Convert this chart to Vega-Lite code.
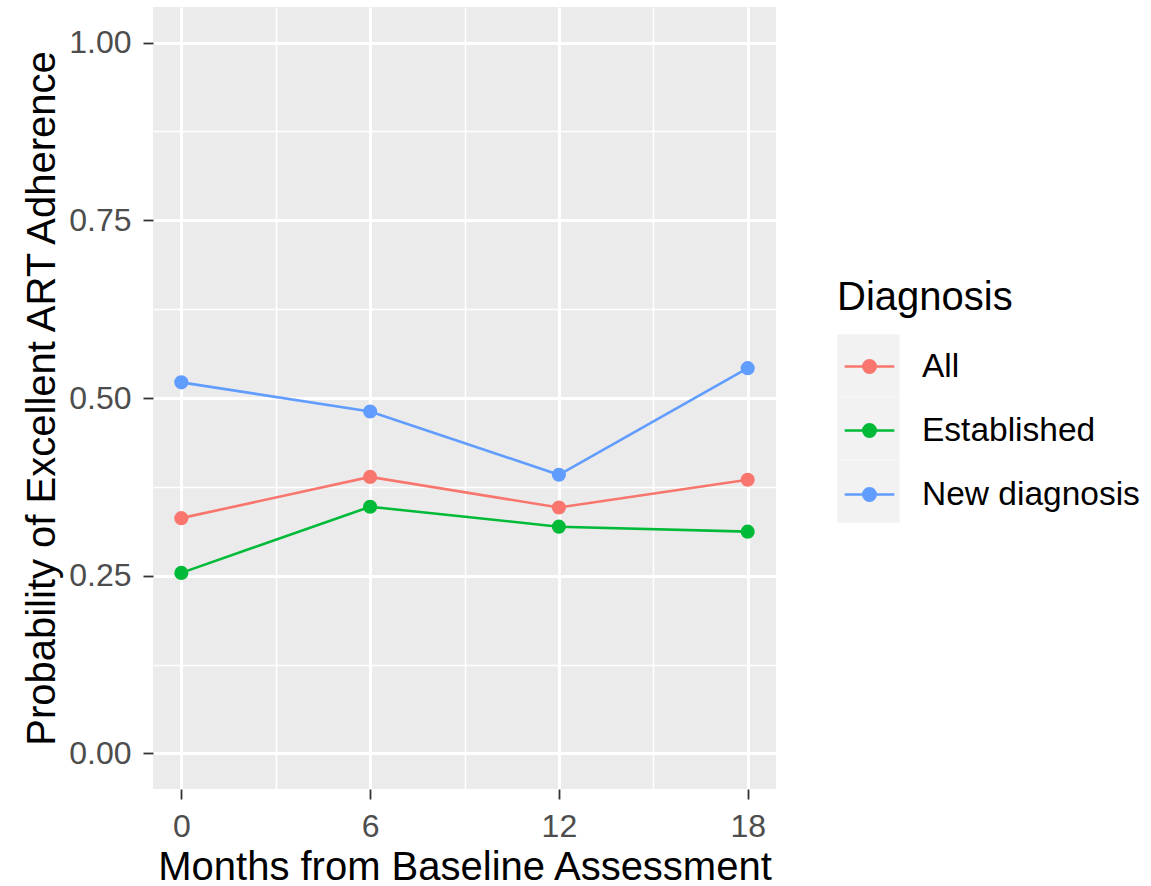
{
  "$schema": "https://vega.github.io/schema/vega-lite/v6.json",
  "width": 623,
  "height": 782,
  "autosize": {"type": "none"},
  "padding": {"left": 153, "top": 7, "right": 375, "bottom": 97},
  "background": "white",
  "config": {
    "font": "Liberation Sans",
    "view": {"fill": "#EBEBEB", "stroke": null}
  },
  "data": {
    "values": [
      {"Months": 0, "Diagnosis": "All", "p": 0.331},
      {"Months": 6, "Diagnosis": "All", "p": 0.389},
      {"Months": 12, "Diagnosis": "All", "p": 0.346},
      {"Months": 18, "Diagnosis": "All", "p": 0.385},
      {"Months": 0, "Diagnosis": "Established", "p": 0.254},
      {"Months": 6, "Diagnosis": "Established", "p": 0.347},
      {"Months": 12, "Diagnosis": "Established", "p": 0.319},
      {"Months": 18, "Diagnosis": "Established", "p": 0.312},
      {"Months": 0, "Diagnosis": "New diagnosis", "p": 0.522},
      {"Months": 6, "Diagnosis": "New diagnosis", "p": 0.481},
      {"Months": 12, "Diagnosis": "New diagnosis", "p": 0.392},
      {"Months": 18, "Diagnosis": "New diagnosis", "p": 0.542}
    ]
  },
  "encoding": {
    "x": {
      "field": "Months",
      "type": "quantitative",
      "scale": {"domain": [-0.9, 18.9], "nice": false, "zero": false},
      "axis": {
        "title": "Months from Baseline Assessment",
        "values": [0, 3, 6, 9, 12, 15, 18],
        "labelExpr": "datum.value % 6 === 0 ? datum.label : ''",
        "domain": false,
        "grid": true,
        "gridColor": "white",
        "gridWidth": {"condition": {"test": "datum.value % 6 === 0", "value": 3}, "value": 1.5},
        "tickColor": "#333333",
        "tickWidth": 1.8,
        "tickSize": 10,
        "tickOpacity": {"condition": {"test": "datum.value % 6 === 0", "value": 1}, "value": 0},
        "labelFontSize": 32,
        "labelColor": "#4D4D4D",
        "labelPadding": 12,
        "titleFontSize": 40,
        "titleFontWeight": "normal",
        "titleColor": "black",
        "titlePadding": 5
      }
    },
    "y": {
      "field": "p",
      "type": "quantitative",
      "scale": {"domain": [-0.05, 1.05], "nice": false, "zero": false},
      "axis": {
        "title": "Probability of Excellent ART Adherence",
        "values": [0, 0.125, 0.25, 0.375, 0.5, 0.625, 0.75, 0.875, 1],
        "format": ".2f",
        "labelExpr": "(datum.value * 8) % 2 === 0 ? datum.label : ''",
        "domain": false,
        "grid": true,
        "gridColor": "white",
        "gridWidth": {"condition": {"test": "(datum.value * 8) % 2 === 0", "value": 3}, "value": 1.5},
        "tickColor": "#333333",
        "tickWidth": 1.8,
        "tickSize": 10,
        "tickOpacity": {"condition": {"test": "(datum.value * 8) % 2 === 0", "value": 1}, "value": 0},
        "labelFontSize": 32,
        "labelColor": "#4D4D4D",
        "labelPadding": 12,
        "titleFontSize": 40,
        "titleFontWeight": "normal",
        "titleColor": "black",
        "titlePadding": 6
      }
    }
  },
  "layer": [
    {
      "mark": {"type": "point", "shape": "square", "filled": true, "color": "#F2F2F2", "opacity": 0, "size": 1},
      "encoding": {
        "shape": {
          "field": "Diagnosis",
          "type": "nominal",
          "scale": {"domain": ["All", "Established", "New diagnosis"], "range": ["square", "square", "square"]},
          "legend": {
            "orient": "none",
            "legendX": 684,
            "legendY": 271,
            "zindex": 1,
            "title": "Diagnosis",
            "titleFontSize": 40,
            "titleFontWeight": "normal",
            "titleOpacity": 0,
            "titlePadding": 16,
            "labelFontSize": 33,
            "labelExpr": "''",
            "labelOpacity": 0,
            "labelOffset": 20,
            "symbolType": "square",
            "symbolSize": 3900,
            "symbolFillColor": "#F2F2F2",
            "symbolStrokeColor": "#F2F2F2",
            "symbolStrokeWidth": 0,
            "symbolOpacity": 1,
            "rowPadding": 0,
            "padding": 0,
            "encode": {
              "symbols": {
                "update": {
                  "fill": {"value": "#F2F2F2"},
                  "stroke": {"value": "#F2F2F2"},
                  "strokeWidth": {"value": 0},
                  "opacity": {"value": 1}
                }
              }
            }
          }
        }
      }
    },
    {
      "mark": {"type": "line", "strokeWidth": 2.6},
      "encoding": {
        "color": {
          "field": "Diagnosis",
          "type": "nominal",
          "scale": {"range": ["#F8766D", "#00BA38", "#619CFF"]},
          "legend": {
            "orient": "none",
            "legendX": 684,
            "legendY": 271,
            "zindex": 2,
            "title": "Diagnosis",
            "titleFontSize": 40,
            "titleFontWeight": "normal",
            "titleColor": "black",
            "titlePadding": 16,
            "labelFontSize": 33.5,
            "labelColor": "black",
            "labelOffset": 20,
            "labelLimit": 400,
            "symbolType": "M-0.8,0L0.8,0M-0.2,0A0.2,0.2,0,1,0,0.2,0A0.2,0.2,0,1,0,-0.2,0Z",
            "symbolSize": 3844,
            "symbolStrokeWidth": 2.6,
            "rowPadding": 15,
            "padding": 0,
            "encode": {
              "symbols": {
                "update": {
                  "fill": {"scale": "color", "field": "value"},
                  "stroke": {"scale": "color", "field": "value"},
                  "strokeWidth": {"value": 2.6},
                  "opacity": {"value": 1}
                }
              }
            }
          }
        }
      }
    },
    {
      "mark": {"type": "point", "filled": true, "size": 200, "opacity": 1},
      "encoding": {
        "color": {"field": "Diagnosis", "type": "nominal"}
      }
    }
  ]
}
